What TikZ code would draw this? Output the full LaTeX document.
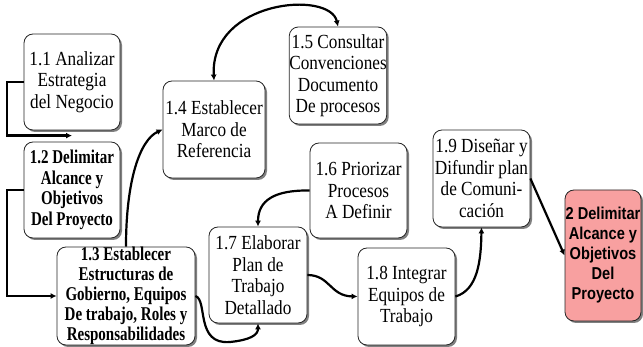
\documentclass[tikz,border=0pt]{standalone}
\usepackage{fontspec}
\setmainfont{Liberation Serif}
\newfontfamily\regf{Liberation Serif}[FakeStretch=0.86]
\newfontfamily\boldf{Liberation Serif}[FakeStretch=0.77]
\newfontfamily\sansb{Liberation Sans}[FakeStretch=0.85]
\usetikzlibrary{shadows,arrows.meta}
\definecolor{pinkfill}{HTML}{F8A0A0}
\begin{document}
\begin{tikzpicture}[x=1pt,y=-1pt,
 box/.style={draw=black!85, line width=0.8pt, rounded corners=9pt, fill=white,
   drop shadow={shadow xshift=2pt,shadow yshift=-2pt,fill=black!50,opacity=1},
   align=center, inner sep=0pt, font=\regf\fontsize{20}{21.5}\selectfont},
 boldbox/.style={box, font=\boldf\fontsize{19.5}{20.5}\selectfont\bfseries},
 finalbox/.style={box, fill=pinkfill, font=\sansb\fontsize{17.2}{20}\selectfont\bfseries},
 conn/.style={line width=2.2pt, -{Latex[length=6pt,width=6pt]}},
 bconn/.style={line width=2.2pt, {Latex[length=6pt,width=6pt]}-{Latex[length=6pt,width=6pt]}}]
\useasboundingbox (0,0) rectangle (643,347);

\node[box, minimum width=96, minimum height=96] (b11) at (72,82) {1.1 Analizar\\Estrategia\\del Negocio};
\node[boldbox, minimum width=96, minimum height=96] (b12) at (72,190) {1.2 Delimitar\\Alcance y\\Objetivos\\Del Proyecto};
\node[boldbox, minimum width=138, minimum height=98, font=\boldf\fontsize{19.5}{20}\selectfont\bfseries] (b13) at (126,296) {1.3 Establecer\\Estructuras de\\Gobierno, Equipos\\De trabajo, Roles y\\Responsabilidades};
\node[box, minimum width=102, minimum height=97] (b14) at (214,129.5) {1.4 Establecer\\Marco de\\Referencia};
\node[box, minimum width=96, minimum height=97] (b15) at (338,75.5) {1.5 Consultar\\Convenciones\\Documento\\De procesos};
\node[box, minimum width=97, minimum height=95] (b16) at (358.5,190.5) {1.6 Priorizar\\Procesos\\A Definir};
\node[box, minimum width=98, minimum height=96] (b17) at (258,275) {1.7 Elaborar\\Plan de\\Trabajo\\Detallado};
\node[box, minimum width=97, minimum height=97] (b18) at (406.5,296.5) {1.8 Integrar\\Equipos de\\Trabajo};
\node[box, minimum width=97, minimum height=97] (b19) at (481.5,178.5) {1.9 Diseñar y\\Difundir plan\\de Comuni-\\cación};
\node[finalbox, minimum width=76, minimum height=131] (b2) at (603,255.5) {2 Delimitar\\Alcance y\\Objetivos\\Del\\Proyecto};

\coordinate (c12) at ([yshift=6pt]b12.north);
\draw[conn] (b11.west) -- ++(-17,0) |- (c12);
\draw[conn] (b12.west) -- ++(-17,0) |- (b13.west);
\draw[conn] (b13.north) .. controls (126,180) and (140,140) .. (b14.west);
\draw[bconn] (b14.north) .. controls (210,0) and (330,-10) .. (b15.north);
\draw[conn] (b16.west) .. controls (275,190) and (258,200) .. (b17.north);
\draw[conn] (b13.east) .. controls (208,300) and (195,345) .. (230,342) .. controls (250,340) and (258,335) .. (b17.south);
\draw[conn] (b17.east) .. controls (330,275) and (330,296) .. (b18.west);
\draw[conn] (b18.east) .. controls (478,290) and (481,260) .. (b19.south);
\draw[conn] (b19.east) -- (b2.west);
\end{tikzpicture}
\end{document}
